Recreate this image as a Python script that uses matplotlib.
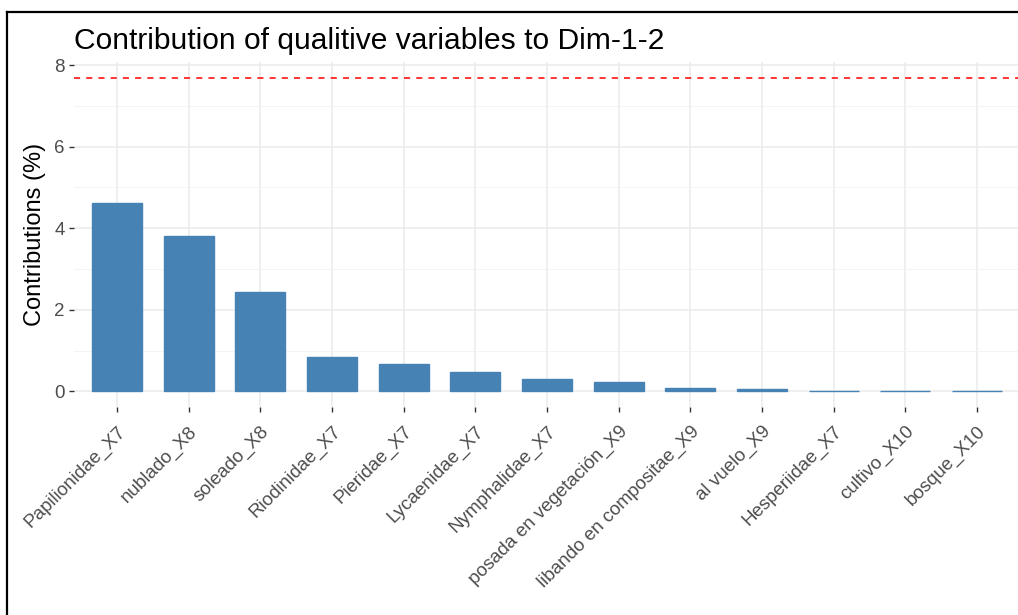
import matplotlib
matplotlib.use('Agg')
import matplotlib.pyplot as plt
from matplotlib.lines import Line2D

# categories and contributions (%) to Dim-1-2
categories = ['Papilionidae_X7', 'nublado_X8', 'soleado_X8', 'Riodinidae_X7',
              'Pieridae_X7', 'Lycaenidae_X7', 'Nymphalidae_X7',
              'posada en vegetación_X9', 'libando en compositae_X9',
              'al vuelo_X9', 'Hesperiidae_X7', 'cultivo_X10', 'bosque_X10']
contrib = [4.62, 3.80, 2.43, 0.84, 0.67, 0.47, 0.30, 0.22, 0.09, 0.05,
           0.015, 0.012, 0.01]
expected = 100 / len(categories)

W, H = 1018, 615
plt.rcParams['font.family'] = ['Liberation Sans', 'DejaVu Sans']

fig = plt.figure(figsize=(W / 100, H / 100), dpi=100)
# panel position in pixels
left, right, top, bottom = 74, 1020, 62, 407
ax = fig.add_axes([left / W, 1 - bottom / H, (right - left) / W, (bottom - top) / H])

x = list(range(1, len(categories) + 1))
ax.bar(x, contrib, width=0.7, color='steelblue', edgecolor='steelblue',
       linewidth=1, zorder=3)
ax.axhline(expected, color='red', linestyle=(0, (4, 4)), linewidth=1.1, zorder=4)

ymax = max(expected, max(contrib))
pad = ymax * 0.05
ax.set_ylim(-pad, ymax + pad)
ax.set_xlim(0.4, len(categories) + 0.6)

ax.set_yticks([0, 2, 4, 6, 8])
ax.set_yticks([1, 3, 5, 7], minor=True)
ax.set_xticks(x)
ax.set_xticklabels(categories, rotation=45, ha='right', rotation_mode='anchor')

ax.grid(True, which='major', color='#ebebeb', linewidth=1.1, zorder=0)
ax.grid(True, which='minor', axis='y', color='#f2f2f2', linewidth=0.6, zorder=0)
ax.set_axisbelow(True)
for s in ax.spines.values():
    s.set_visible(False)

ax.tick_params(axis='both', which='major', length=3.5, width=1, color='#333333',
               labelcolor='#4d4d4d', labelsize=13.5)
ax.tick_params(axis='y', which='minor', length=0)
ax.tick_params(axis='x', pad=8)
ax.tick_params(axis='y', pad=3)

ax.set_ylabel('Contributions (%)', fontsize=17, color='black', labelpad=6)
ax.set_title('Contribution of qualitive variables to Dim-1-2', fontsize=21.6,
             loc='left', pad=9)

# black frame of the screenshot
fig.add_artist(Line2D([7 / W, 1], [1 - 12 / H, 1 - 12 / H], color='black',
                      linewidth=1.6, transform=fig.transFigure))
fig.add_artist(Line2D([7 / W, 7 / W], [0, 1 - 12 / H], color='black',
                      linewidth=1.6, transform=fig.transFigure))

fig.savefig('out.png', dpi=100)
